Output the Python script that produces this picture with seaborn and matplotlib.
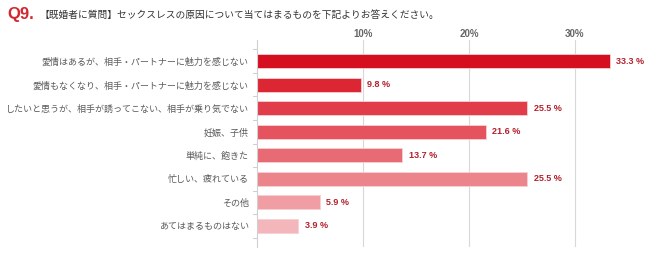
import numpy as np
import pandas as pd
import seaborn as sns
import matplotlib.pyplot as plt

sns.set_theme(style="white")
plt.rcParams['font.family'] = ['Noto Sans CJK JP', 'DejaVu Sans']

categories = ["愛情はあるが、相手・パートナーに魅力を感じない",
              "愛情もなくなり、相手・パートナーに魅力を感じない",
              "したいと思うが、相手が誘ってこない、相手が乗り気でない",
              "妊娠、子供",
              "単純に、飽きた",
              "忙しい、疲れている",
              "その他",
              "あてはまるものはない"]
values = [33.3, 9.8, 25.5, 21.6, 13.7, 25.5, 5.9, 3.9]
bar_colors = ["#d50f1f", "#dc2634", "#e03c49", "#e4535e", "#e86a74", "#ec848b", "#f09ea3", "#f3b6ba"]
tick_vals = [10, 20, 30]
tick_labels = ["10%", "20%", "30%"]

df = pd.DataFrame({"cat": categories, "val": values})

fig = plt.figure(figsize=(6.5, 2.59), dpi=100)
ax = fig.add_axes([257/650, 12/259, (650-257)/650, 207/259])

sns.barplot(data=df, y="cat", x="val", hue="cat", palette=bar_colors,
            orient="h", width=0.6, legend=False, ax=ax, saturation=1,
            edgecolor="#f7d0d3", linewidth=0.6)

ax.set_xlim(0, 37.08)
ax.set_xlabel("")
ax.set_ylabel("")
ax.set_xticks(tick_vals)
ax.set_xticklabels(tick_labels, fontsize=7, fontweight="bold", color="#666666",
                   family="Liberation Sans")
ax.xaxis.tick_top()
ax.tick_params(axis="x", length=0, pad=1)
ax.tick_params(axis="y", length=0, pad=6, labelsize=6.5, labelcolor="#5a5a5a")
for v in tick_vals:
    ax.axvline(v, color="#d8d8d8", lw=0.8, zorder=0)

for s in ["top", "right", "bottom"]:
    ax.spines[s].set_visible(False)
ax.spines["left"].set_color("#d0d0d0")
ax.spines["left"].set_linewidth(0.8)

# small boundary ticks on the left axis
for b in np.arange(-0.5, len(categories), 1.0):
    ax.plot([-0.35, 0], [b, b], color="#d0d0d0", lw=0.8, clip_on=False)

for i, v in enumerate(values):
    ax.text(v + 0.6, i, f"{v} %", va="center", ha="left", fontsize=6.5,
            fontweight="bold", color="#b3202d", family="Liberation Sans")

fig.text(7/650, 1 - 15/259, "Q9.", fontsize=12, fontweight="bold",
         color="#d2282e", va="center", family="Liberation Sans")
fig.text(39/650, 1 - 15/259,
         "【既婚者に質問】セックスレスの原因について当てはまるものを下記よりお答えください。",
         fontsize=7, color="#333333", va="center")

fig.savefig("out.png", dpi=100, facecolor="white")
